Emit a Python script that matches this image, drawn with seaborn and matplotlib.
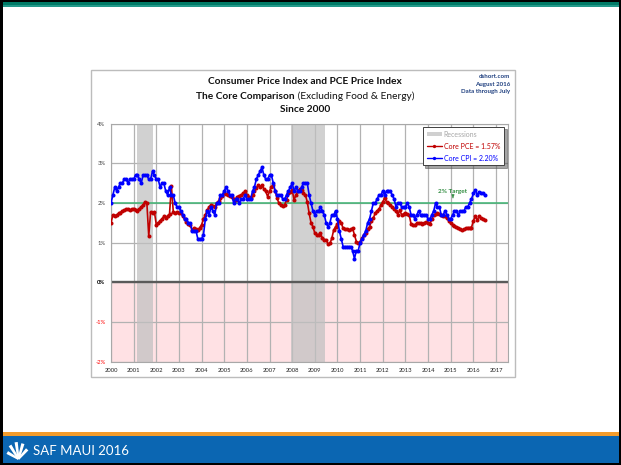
import numpy as np
import pandas as pd
import matplotlib
matplotlib.use("Agg")
import matplotlib.pyplot as plt
import seaborn as sns
from matplotlib.patches import Rectangle, Patch, Polygon
from matplotlib.lines import Line2D

# ---------------- data (monthly YoY %, Jan 2000 - Jul 2016) ----------------
core_cpi = [
    2.0, 2.2, 2.4, 2.3, 2.4, 2.5, 2.5, 2.6, 2.6, 2.5, 2.6, 2.6,
    2.6, 2.7, 2.7, 2.6, 2.5, 2.7, 2.7, 2.7, 2.6, 2.6, 2.8, 2.7,
    2.6, 2.6, 2.4, 2.5, 2.5, 2.3, 2.2, 2.4, 2.2, 2.2, 2.0, 1.9,
    1.9, 1.8, 1.7, 1.6, 1.6, 1.5, 1.5, 1.3, 1.3, 1.3, 1.1, 1.1,
    1.1, 1.2, 1.6, 1.8, 1.7, 1.9, 1.8, 1.7, 2.0, 2.0, 2.2, 2.2,
    2.3, 2.4, 2.3, 2.2, 2.2, 2.0, 2.1, 2.1, 2.0, 2.1, 2.1, 2.2,
    2.1, 2.1, 2.1, 2.3, 2.4, 2.6, 2.7, 2.8, 2.9, 2.7, 2.6, 2.6,
    2.7, 2.7, 2.5, 2.3, 2.2, 2.2, 2.2, 2.1, 2.1, 2.2, 2.3, 2.4,
    2.5, 2.3, 2.4, 2.3, 2.3, 2.4, 2.5, 2.5, 2.5, 2.2, 2.0, 1.8,
    1.7, 1.8, 1.8, 1.9, 1.8, 1.7, 1.5, 1.4, 1.5, 1.7, 1.7, 1.8,
    1.6, 1.3, 1.1, 0.9, 0.9, 0.9, 0.9, 0.9, 0.8, 0.6, 0.8, 0.8,
    1.0, 1.1, 1.2, 1.3, 1.5, 1.6, 1.8, 2.0, 2.0, 2.1, 2.2, 2.2,
    2.3, 2.2, 2.3, 2.3, 2.3, 2.2, 2.1, 1.9, 2.0, 2.0, 1.9, 1.9,
    1.9, 2.0, 1.9, 1.7, 1.7, 1.6, 1.7, 1.8, 1.7, 1.7, 1.7, 1.7,
    1.6, 1.6, 1.7, 1.8, 2.0, 1.9, 1.9, 1.7, 1.7, 1.8, 1.7, 1.6,
    1.6, 1.7, 1.8, 1.8, 1.7, 1.8, 1.8, 1.8, 1.9, 1.9, 2.0, 2.1,
    2.24, 2.33, 2.2, 2.28, 2.24, 2.25, 2.20,
]
core_pce = [
    1.50, 1.70, 1.68, 1.70, 1.74, 1.76, 1.80, 1.82, 1.84, 1.85, 1.82, 1.84,
    1.86, 1.82, 1.80, 1.85, 1.90, 1.95, 2.03, 2.00, 1.17, 1.78, 1.76, 1.78,
    1.45, 1.49, 1.55, 1.60, 1.66, 1.62, 1.68, 1.72, 2.43, 1.78, 1.74, 1.78,
    1.76, 1.74, 1.68, 1.60, 1.53, 1.48, 1.44, 1.32, 1.36, 1.34, 1.32, 1.38,
    1.45, 1.60, 1.70, 1.82, 1.90, 1.95, 1.92, 1.90, 2.00, 2.05, 2.12, 2.18,
    2.24, 2.22, 2.20, 2.18, 2.16, 2.10, 2.08, 2.16, 2.18, 2.20, 2.24, 2.29,
    2.20, 2.15, 2.12, 2.20, 2.29, 2.38, 2.45, 2.41, 2.45, 2.35, 2.29, 2.16,
    2.30, 2.41, 2.45, 2.29, 2.12, 1.99, 1.95, 1.93, 1.95, 2.08, 2.24, 2.28,
    2.33, 2.08, 2.20, 2.29, 2.35, 2.33, 2.25, 2.20, 2.03, 1.74, 1.50, 1.40,
    1.24, 1.20, 1.20, 1.24, 1.11, 1.08, 1.07, 0.97, 0.98, 1.11, 1.32, 1.40,
    1.47, 1.55, 1.50, 1.36, 1.34, 1.34, 1.32, 1.34, 1.36, 1.20, 1.03, 0.98,
    1.03, 1.11, 1.20, 1.24, 1.35, 1.40, 1.55, 1.62, 1.74, 1.80, 1.84, 1.95,
    2.03, 2.12, 2.03, 1.99, 1.95, 1.90, 1.86, 1.80, 1.70, 1.82, 1.70, 1.72,
    1.74, 1.72, 1.70, 1.47, 1.45, 1.45, 1.49, 1.50, 1.50, 1.47, 1.50, 1.53,
    1.50, 1.47, 1.60, 1.70, 1.72, 1.74, 1.72, 1.70, 1.68, 1.66, 1.62, 1.55,
    1.49, 1.45, 1.42, 1.40, 1.38, 1.35, 1.32, 1.34, 1.36, 1.38, 1.38, 1.38,
    1.55, 1.66, 1.57, 1.66, 1.62, 1.60, 1.57,
]
start_year = 2000
recessions = [(2001.17, 2001.84), (2007.95, 2009.46)]
year_ticks = list(range(2000, 2018))
y_ticks = [-2, -1, 0, 1, 2, 3, 4]
target_level = 2
title_line1 = "Consumer Price Index and PCE Price Index"
title_line2_bold = "The Core Comparison"
title_line2_norm = " (Excluding Food & Energy)"
title_line3 = "Since 2000"
source_lines = ["dshort.com", "August 2016", "Data through July"]
footer_text = "SAF MAUI 2016"

months = np.arange(len(core_cpi))
years = start_year + months / 12.0
df = pd.DataFrame({"year": years, "cpi": core_cpi, "pce": core_pce})

# ---------------- style ----------------
sns.set_style("white")
plt.rcParams["font.family"] = ["Lato", "DejaVu Sans"]

W, H = 621, 465
fig = plt.figure(figsize=(W / 100, H / 100), dpi=100)
fig.patch.set_facecolor("white")

def fx(x):
    return x / W

def fy(y):
    return 1 - y / H

def rect(x0, y0, x1, y1, fc, ec="none", lw=0, z=0):
    fig.add_artist(Rectangle((fx(x0), fy(y1)), (x1 - x0) / W, (y1 - y0) / H,
                             transform=fig.transFigure, facecolor=fc,
                             edgecolor=ec, linewidth=lw, zorder=z))

# slide decoration
rect(0, 0, W, 2, "#000000", z=5)
rect(0, 2, W, 5, "#007a66", z=5)
rect(0, 5, W, 7, "#23998a", z=5)
rect(0, 431.5, W, 436, "#f39c2c", z=5)
rect(0, 436, W, 462.5, "#0b66b2", z=5)
rect(0, 462.5, W, H, "#000000", z=5)
rect(0, 0, 2.5, H, "#000000", z=5)
rect(W - 2, 0, W, H, "#000000", z=5)

# chart frame (behind the axes)
rect(91, 70, 515, 377, "white", ec="#bcbcbc", lw=1.0, z=-1)

# ---------------- axes ----------------
ax = fig.add_axes([fx(111), fy(361.8), 397 / W, 238.2 / H])
ax.set_zorder(1)
ax.set_facecolor("white")
ax.set_xlim(2000, 2017.53)
ax.set_ylim(-2, 4)
ax.set_axisbelow(True)

ax.axhspan(-2, 0, color="#ffe1e4", zorder=0.1, lw=0)
for r0, r1 in recessions:
    ax.axvspan(r0, r1, color="#c0c0c0", alpha=0.72, zorder=0.6, lw=0)

ax.set_xticks(year_ticks)
ax.set_yticks(y_ticks)
ax.set_xticklabels([str(y) for y in year_ticks])
ax.set_yticklabels([f"{v}%" for v in y_ticks])
ax.grid(True, color="#b2b2b2", lw=0.9)
ax.tick_params(axis="x", length=0, pad=4.2, labelsize=4.2, labelcolor="#202020")
ax.tick_params(axis="y", length=0, pad=4.0, labelsize=4.2, labelcolor="#404040")
for lab, v in zip(ax.get_yticklabels(), y_ticks):
    if v < 0:
        lab.set_color("#ff0000")
    elif v == 0:
        lab.set_color("#000000")
        lab.set_fontweight("bold")
for sp in ax.spines.values():
    sp.set_color("#a8a8a8")
    sp.set_linewidth(0.8)

ax.axhline(0, color="#5a5a5a", lw=1.7, zorder=2)
ax.axhline(target_level, color="#3cb371", lw=1.1, zorder=2)

red = "#c00000"
blue = "#0000ff"
sns.lineplot(data=df, x="year", y="pce", color=red, marker="o", markersize=2.9,
             markeredgewidth=0, lw=1.2, ax=ax, zorder=3, legend=False)
sns.lineplot(data=df, x="year", y="cpi", color=blue, marker="o", markersize=2.9,
             markeredgewidth=0, lw=1.2, ax=ax, zorder=3.1, legend=False)
ax.set_xlabel("")
ax.set_ylabel("")

green = "#2e8b3e"
ax.text(2015.1, 2.28, "2% Target", color=green, fontsize=4.6, ha="center",
        va="center", fontweight="bold", zorder=5)
ax.annotate("", xy=(2015.1, 2.06), xytext=(2015.1, 2.2),
            arrowprops=dict(arrowstyle="-|>", color=green, lw=0.6,
                            mutation_scale=4), zorder=5)

# legend
handles = [
    Patch(facecolor="#d0d0d0", edgecolor="none"),
    Line2D([], [], color=red, marker="o", ms=2.4, mew=0, lw=1.0),
    Line2D([], [], color=blue, marker="o", ms=2.4, mew=0, lw=1.0),
]
labels = ["Recessions", f"Core PCE = {core_pce[-1]:.2f}%",
          f"Core CPI = {core_cpi[-1]:.2f}%"]
leg = ax.legend(handles, labels, loc="upper left",
                bbox_to_anchor=(fx(422.7), fy(126.7)),
                bbox_transform=fig.transFigure, fontsize=5.0,
                labelcolor=["#a6a6a6", red, blue], frameon=True,
                fancybox=False, shadow=True, edgecolor="#404040",
                framealpha=1, handlelength=2.2, handleheight=0.5,
                labelspacing=0.72, borderpad=0.55, handletextpad=0.25,
                borderaxespad=0)
leg.get_frame().set_linewidth(0.7)
leg.set_zorder(6)

# ---------------- titles ----------------
tsize = 7.3
fig.text(fx(305), fy(81.7), title_line1, ha="center", va="center",
         fontsize=tsize, fontweight="bold", color="#111111")
fig.text(fx(305), fy(109.5), title_line3, ha="center", va="center",
         fontsize=tsize, fontweight="bold", color="#111111")
t_b = fig.text(0, fy(96.5), title_line2_bold, ha="left", va="center",
               fontsize=tsize, fontweight="bold", color="#111111")
t_n = fig.text(0, fy(96.5), title_line2_norm, ha="left", va="center",
               fontsize=tsize, color="#111111")
fig.canvas.draw()
rend = fig.canvas.get_renderer()
wb = t_b.get_window_extent(rend).width
wn = t_n.get_window_extent(rend).width
x0 = 305 - (wb + wn) / 2
t_b.set_x(fx(x0))
t_n.set_x(fx(x0 + wb))

for i, s in enumerate(source_lines):
    fig.text(fx(510.5), fy(76.5 + 7.6 * i), s, ha="right", va="center",
             fontsize=4.4, fontweight="bold", color="#1f3f7f")

# footer
fig.text(fx(33), fy(451), footer_text, ha="left", va="center", fontsize=9.5,
         color="white", zorder=6,
         family=["Liberation Sans Narrow", "Lato", "DejaVu Sans"])
cx, cy = 18.5, 459
for ang, ln in [(-60, 13), (-32, 16), (-8, 17), (16, 16), (42, 13)]:
    a = np.deg2rad(ang)
    tip = (cx + ln * np.sin(a), cy - ln * np.cos(a))
    wdt = 2.0
    p1 = (cx + wdt * np.cos(a) * 0.5, cy + wdt * np.sin(a) * 0.5)
    p2 = (cx - wdt * np.cos(a) * 0.5, cy - wdt * np.sin(a) * 0.5)
    pts = [(fx(p1[0]), fy(p1[1])), (fx(tip[0] + 1.6 * np.cos(a)), fy(tip[1] + 1.6 * np.sin(a))),
           (fx(tip[0] - 1.6 * np.cos(a)), fy(tip[1] - 1.6 * np.sin(a))), (fx(p2[0]), fy(p2[1]))]
    fig.add_artist(Polygon(pts, closed=True, transform=fig.transFigure,
                           facecolor="white", edgecolor="none", zorder=6))

fig.savefig("out.png", dpi=100)
